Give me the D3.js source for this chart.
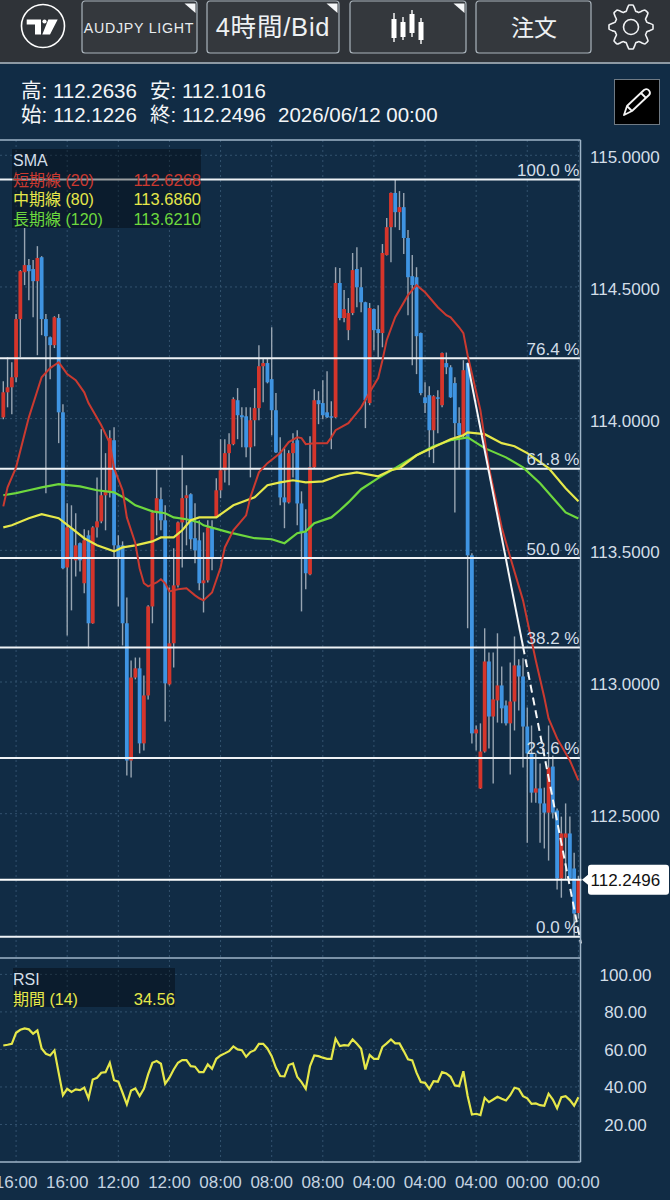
<!DOCTYPE html>
<html>
<head>
<meta charset="utf-8">
<script src="https://cdn.jsdelivr.net/npm/d3@7"></script>
<style>
  html, body { margin: 0; padding: 0; background: #112c45; }
  svg { display: block; }
  text { font-family: "Liberation Sans", "Noto Sans CJK JP", sans-serif; }
</style>
</head>
<body>
<div id="chart"></div>
<script>
// Candles, oldest to newest
const candleOpen = [114.005,114.100,114.119,114.157,114.378,114.556,114.583,114.568,114.522,114.613,114.378,114.309,114.279,114.382,114.024,113.435,113.584,113.462,113.527,113.375,113.557,113.223,113.587,113.610,113.709,113.720,113.918,113.519,113.519,113.223,112.702,113.017,113.052,112.767,112.949,113.287,113.644,113.694,113.614,112.991,113.147,113.367,113.606,113.698,113.713,113.546,113.538,113.375,113.386,113.587,113.625,113.728,113.804,113.869,113.903,114.070,114.013,114.009,113.891,113.994,114.040,114.199,114.211,114.150,114.032,113.872,113.701,113.682,113.869,113.918,113.678,113.568,113.409,113.815,114.070,114.059,114.024,114.009,114.005,114.515,114.382,114.336,114.401,114.568,114.499,114.442,114.059,114.416,114.340,114.325,114.621,114.727,114.857,114.784,114.803,114.686,114.541,114.537,114.325,114.081,114.089,113.956,114.081,114.051,114.211,114.195,114.135,113.983,113.937,114.211,113.481,112.805,112.596,112.736,113.078,112.869,112.930,112.987,112.911,112.843,112.926,113.063,113.021,112.831,112.729,112.580,112.596,112.539,112.504,112.679,112.512,112.254,112.409,112.425,112.292,112.1226];
const candleHigh = [114.142,114.233,114.214,114.397,114.564,114.724,114.606,114.602,114.655,114.617,114.397,114.312,114.389,114.397,114.055,113.679,113.671,113.641,113.530,113.580,113.576,113.591,113.777,113.960,113.869,113.956,113.967,113.557,113.534,113.321,113.082,113.093,113.093,113.025,113.291,113.652,113.812,113.739,113.671,113.359,113.508,113.609,113.861,113.747,113.717,113.679,113.614,113.568,113.614,113.614,113.774,113.922,113.922,113.945,114.081,114.116,114.043,114.043,114.043,114.116,114.279,114.230,114.230,114.347,114.097,113.929,113.888,113.880,113.945,113.956,113.724,113.656,113.933,114.112,114.104,114.146,114.180,114.066,114.575,114.572,114.488,114.458,114.629,114.651,114.575,114.444,114.439,114.418,114.431,114.663,114.762,114.859,114.908,114.864,114.857,114.716,114.621,114.575,114.327,114.138,114.123,114.089,114.108,114.251,114.251,114.203,114.157,114.043,114.222,114.213,113.489,112.835,112.843,113.204,113.112,113.112,113.185,113.059,112.930,113.074,113.173,113.086,113.090,112.903,112.835,112.729,112.691,112.599,112.835,112.721,112.520,112.489,112.539,112.489,112.352,112.2636];
const candleLow = [113.998,114.043,114.017,114.138,114.233,114.507,114.450,114.385,114.241,114.317,113.717,114.150,114.268,113.907,113.428,113.177,113.272,113.401,113.420,113.337,113.128,113.221,113.549,113.603,113.576,113.701,113.470,113.287,113.139,112.645,112.637,113.010,112.729,112.740,112.934,113.223,113.557,113.576,112.850,112.987,113.055,113.359,113.435,113.519,113.504,113.451,113.348,113.264,113.378,113.424,113.623,113.698,113.758,113.747,113.899,113.922,113.891,113.853,113.777,113.895,113.994,114.062,114.134,113.937,113.870,113.671,113.584,113.678,113.777,113.595,113.268,113.352,113.405,113.813,113.979,113.998,114.002,113.884,114.002,114.374,114.366,114.298,114.393,114.423,114.404,113.964,114.051,114.260,114.233,114.271,114.619,114.594,114.727,114.716,114.625,114.393,114.203,114.169,114.089,114.021,113.853,113.831,113.945,114.043,114.169,114.079,113.644,113.812,113.929,113.204,112.767,112.740,112.594,112.732,112.748,112.615,112.846,112.843,112.835,112.649,112.816,112.892,112.675,112.390,112.542,112.542,112.390,112.368,112.322,112.482,112.212,112.181,112.252,112.252,112.037,112.1016];
const candleClose = [114.100,114.119,114.157,114.378,114.560,114.583,114.560,114.522,114.610,114.378,114.313,114.279,114.385,114.024,113.432,113.587,113.470,113.519,113.462,113.538,113.223,113.587,113.610,113.709,113.728,113.926,113.519,113.470,113.223,112.702,113.017,113.052,112.767,112.949,113.287,113.644,113.698,113.614,112.995,113.147,113.367,113.606,113.698,113.709,113.542,113.500,113.375,113.386,113.587,113.470,113.728,113.804,113.869,113.903,114.074,114.013,114.005,113.891,113.994,114.040,114.199,114.211,114.138,114.032,113.872,113.701,113.682,113.869,113.907,113.678,113.568,113.413,113.815,114.070,114.055,114.013,114.005,114.005,114.515,114.382,114.416,114.401,114.564,114.499,114.442,114.070,114.420,114.336,114.325,114.629,114.727,114.857,114.784,114.803,114.686,114.537,114.507,114.313,114.097,114.059,113.956,114.085,114.077,114.249,114.195,114.081,113.983,113.937,114.184,113.481,112.805,112.820,112.736,113.078,112.869,112.934,112.987,112.900,112.843,112.926,113.063,113.021,112.831,112.729,112.580,112.596,112.539,112.504,112.675,112.504,112.254,112.425,112.425,112.254,112.121,112.2496];

// Moving averages, sampled at these candle numbers
const sma20Index = [0,1,3,6,9,11,13,14,15,17,19,20,23,25,26,28,29,31,32,33,34,36,37,38,39,41,43,45,46,47,49,51,52,54,57,58,60,62,65,67,69,70,71,73,76,77,78,81,84,86,88,89,90,92,95,97,99,102,104,105,107,108,109,112,114,117,119,122,123,125,127,128,130,133,135];
const sma20 = [113.667,113.739,113.815,114.005,114.157,114.192,114.214,114.192,114.169,114.146,114.100,114.059,113.975,113.907,113.812,113.728,113.625,113.527,113.432,113.375,113.363,113.378,113.390,113.375,113.344,113.352,113.356,113.329,113.318,113.310,113.340,113.435,113.511,113.576,113.633,113.701,113.796,113.831,113.869,113.911,113.929,113.926,113.903,113.907,113.907,113.929,113.956,113.983,114.043,114.100,114.154,114.222,114.298,114.385,114.469,114.507,114.480,114.423,114.393,114.385,114.347,114.325,114.241,114.032,113.815,113.587,113.474,113.310,113.234,113.082,112.941,112.862,112.786,112.702,112.6268];
const sma80Index = [0,2,6,9,13,16,19,22,26,28,31,35,37,40,42,44,46,50,54,59,62,65,68,71,75,79,83,88,91,93,97,101,105,108,109,113,117,120,123,128,132,135];
const sma80 = [113.587,113.595,113.622,113.637,113.622,113.584,113.546,113.519,113.496,113.511,113.519,113.534,113.549,113.549,113.576,113.614,113.625,113.625,113.671,113.701,113.747,113.758,113.766,113.758,113.762,113.785,113.796,113.781,113.804,113.812,113.861,113.891,113.922,113.937,113.948,113.941,113.907,113.895,113.869,113.812,113.736,113.686];
const sma120Index = [0,3,6,9,13,18,22,26,29,31,35,38,40,43,46,47,53,59,63,66,69,71,73,77,79,81,84,88,92,97,101,105,108,109,113,118,122,126,132,135];
const sma120 = [113.709,113.717,113.728,113.739,113.751,113.743,113.728,113.720,113.694,113.671,113.648,113.641,113.625,113.618,113.606,113.595,113.568,113.546,113.542,113.527,113.565,113.572,113.603,113.625,113.652,113.682,113.732,113.774,113.812,113.861,113.895,113.918,113.926,113.929,113.888,113.853,113.815,113.755,113.644,113.621];

// RSI (14), one value per candle
const rsi = [62.1,62.5,63.0,68.9,70.5,71.2,70.7,68.4,70.1,60.5,57.7,56.8,59.5,47.5,35.6,39.0,37.4,38.7,38.3,39.6,33.9,44.0,44.9,47.6,47.9,52.9,43.6,42.8,36.9,30.7,38.1,39.2,35.2,39.0,46.7,52.9,53.8,52.4,41.7,44.9,49.3,52.9,54.3,54.3,51.1,50.8,47.9,47.9,52.0,49.7,55.0,56.8,57.9,59.1,61.6,60.0,59.6,56.1,58.6,59.6,63.0,63.0,60.5,56.4,50.2,45.8,45.6,51.7,52.5,45.4,42.6,39.0,51.1,56.8,56.4,55.6,55.0,55.0,65.7,61.8,62.3,62.1,65.3,63.0,60.4,49.3,57.0,55.0,55.0,61.4,63.2,65.3,63.2,63.2,59.1,54.7,54.1,47.6,42.6,42.2,39.0,43.1,42.8,47.9,47.2,45.4,40.8,40.4,48.4,35.2,25.3,25.7,25.0,34.2,31.9,33.3,34.8,33.7,32.8,35.6,39.6,39.0,35.1,33.9,31.0,31.2,30.3,30.0,36.4,33.3,28.7,34.6,35.1,33.0,30.0,34.56];

// Fibonacci retracement
const fibHigh = 114.908;
const fibLow = 112.033;
const fibLabels = ["100.0 %","76.4 %","61.8 %","50.0 %","38.2 %","23.6 %","0.0 %"];
const fibRatios = [1, 0.764, 0.618, 0.5, 0.382, 0.236, 0];

// Drawn trend line, solid then dashed
const trendIndex = [109, 122, 135.6];
const trendPrice = [114.211, 113.135, 112.007];

// Axis ticks
const priceTicks = [115, 114.5, 114, 113.5, 113, 112.5];
const rsiTicks = [100, 80, 60, 40, 20];
const timeTickIndex = [3,15,27,39,51,63,75,87,99,111,123,135];
const timeTickLabels = ["16:00","16:00","12:00","12:00","08:00","08:00","08:00","04:00","04:00","04:00","00:00","00:00"];

const lastPrice = 112.2496;

const colors = {
    bg: "#112c45",
    header: "#2f3338",
    border: "#9fb5c8",
    grid: "#33526e",
    text: "#d3dee8",
    up: "#d5352b",
    down: "#3f94e2",
    wick: "#98a5b2",
    sma20: "#cb3a30",
    sma80: "#e6e84a",
    sma120: "#6ed83e",
    fib: "#eef2f6"
};

const width = 670;
const height = 1200;
const plotLeft = 0;
const plotRight = 580.5;
const mainTop = 140;
const mainBottom = 957.5;
const rsiBottom = 1162;

const svg = d3.select("#chart")
    .append("svg")
    .attr("width", width)
    .attr("height", height);

svg.append("rect").attr("width", width).attr("height", height).attr("fill", colors.bg);

// Scales
const xScale = d3.scaleLinear().domain([0, 135]).range([3.3, 578.4]);
const yScale = d3.scaleLinear().domain([111.954, 115.058]).range([mainBottom, mainTop]);
const rsiScale = d3.scaleLinear().domain([0, 109]).range([rsiBottom, mainBottom]);

// ---- header bar ----
const header = svg.append("g");
header.append("rect").attr("width", width).attr("height", 63).attr("fill", colors.header);
header.append("rect").attr("y", 62).attr("width", width).attr("height", 2).attr("fill", "#8d99a3");

// logo
header.append("circle").attr("cx", 43).attr("cy", 26).attr("r", 21.5)
    .attr("fill", "none").attr("stroke", "#fff").attr("stroke-width", 1.6);
header.append("path").attr("fill", "#fff")
    .attr("d", "M26.7 19.5H41V34.5H35V24.5H26.7z M48.3 19.5H57.7L50 34.5H42.3z");
header.append("circle").attr("cx", 44.5).attr("cy", 21.5).attr("r", 2.1).attr("fill", "#fff");

const buttons = [
    { x: 82, w: 115, tri: true },
    { x: 207, w: 132, tri: true },
    { x: 350, w: 116, tri: true },
    { x: 476, w: 115, tri: false }
];
buttons.forEach(b => {
    header.append("rect").attr("x", b.x).attr("y", 1).attr("width", b.w).attr("height", 52).attr("rx", 3)
        .attr("fill", "#34383d").attr("stroke", "#aab4bc").attr("stroke-width", 1.2);
    if (b.tri) {
        const r = b.x + b.w - 1.5;
        header.append("path").attr("fill", "#f4f6f8").attr("d", `M${r - 11} 3.5H${r}V13z`);
    }
});
header.append("text").attr("x", 139).attr("y", 32.5).attr("text-anchor", "middle")
    .attr("font-size", 14.2).attr("letter-spacing", 0.75).attr("fill", "#e8ecef").text("AUDJPY LIGHT");
header.append("text").attr("x", 273).attr("y", 36).attr("text-anchor", "middle")
    .attr("font-size", 25.5).attr("letter-spacing", 0.8).attr("fill", "#eef1f3").text("4時間/Bid");
header.append("text").attr("x", 534).attr("y", 35.5).attr("text-anchor", "middle")
    .attr("font-size", 23).attr("fill", "#eef1f3").text("注文");

// candle icon
[[394, 13, 42, 19, 38], [403, 17, 40, 22, 37], [412, 10, 37, 14, 33], [421, 18, 44, 22, 40]].forEach(c => {
    header.append("line").attr("x1", c[0]).attr("x2", c[0]).attr("y1", c[1]).attr("y2", c[2])
        .attr("stroke", "#fff").attr("stroke-width", 1.4);
    header.append("rect").attr("x", c[0] - 2.5).attr("y", c[3]).attr("width", 5).attr("height", c[4] - c[3]).attr("fill", "#fff");
});

// gear
const gearRadii = d3.range(64).map(i => {
    const p = i % 8;
    return p < 3 ? 22 : p === 3 || p === 7 ? 19 : 16.5;
});
const gearPath = d3.lineRadial()
    .angle((d, i) => i / 64 * 2 * Math.PI - 0.1)
    .radius(d => d)
    .curve(d3.curveCardinalClosed.tension(0.5));
header.append("path").attr("transform", "translate(631,27)").attr("d", gearPath(gearRadii))
    .attr("fill", "none").attr("stroke", "#f0f2f4").attr("stroke-width", 1.6).attr("stroke-linejoin", "round");
header.append("circle").attr("cx", 631).attr("cy", 27).attr("r", 7.5)
    .attr("fill", "none").attr("stroke", "#f0f2f4").attr("stroke-width", 1.6);

// ---- OHLC read-out ----
const fmt = d3.format(".4f");
const last = candleOpen.length - 1;
const info = svg.append("g").attr("font-size", 20.5).attr("fill", "#f3f5f7");
info.append("text").attr("x", 21).attr("y", 97.5).text(`高: ${fmt(candleHigh[last])}`);
info.append("text").attr("x", 150).attr("y", 97.5).text(`安: ${fmt(candleLow[last])}`);
info.append("text").attr("x", 21).attr("y", 122).text(`始: ${fmt(candleOpen[last])}`);
info.append("text").attr("x", 150).attr("y", 122).text(`終: ${fmt(candleClose[last])}`);
info.append("text").attr("x", 278).attr("y", 122).text("2026/06/12 00:00");

// pencil button
svg.append("rect").attr("x", 614.5).attr("y", 79.5).attr("width", 45).attr("height", 45)
    .attr("fill", "#000").attr("stroke", "#6f7a84");
svg.append("path").attr("fill", "none").attr("stroke", "#f4f4f4").attr("stroke-width", 1.8).attr("stroke-linejoin", "round")
    .attr("d", "M624 115 L627 106 L644 90 Q647 88 649 90.5 Q651 93 649 95 L632 111 Z M627 106 L632 111 M641 93 L646 98");

// ---- grid ----
const grid = svg.append("g").attr("stroke", colors.grid).attr("stroke-width", 1).attr("stroke-dasharray", "2,3");
priceTicks.forEach(t => {
    grid.append("line").attr("x1", plotLeft).attr("x2", plotRight).attr("y1", yScale(t)).attr("y2", yScale(t));
});
rsiTicks.forEach(t => {
    grid.append("line").attr("x1", plotLeft).attr("x2", plotRight).attr("y1", rsiScale(t)).attr("y2", rsiScale(t));
});
timeTickIndex.forEach(i => {
    grid.append("line").attr("x1", xScale(i)).attr("x2", xScale(i)).attr("y1", mainTop).attr("y2", rsiBottom);
});

// ---- candles ----
const indexes = d3.range(candleOpen.length);
svg.append("g").selectAll("line")
    .data(indexes)
    .enter()
    .append("line")
    .attr("x1", i => xScale(i))
    .attr("x2", i => xScale(i))
    .attr("y1", i => yScale(candleHigh[i]))
    .attr("y2", i => yScale(candleLow[i]))
    .attr("stroke", colors.wick)
    .attr("stroke-width", 1.4);
svg.append("g").selectAll("rect")
    .data(indexes)
    .enter()
    .append("rect")
    .attr("x", i => xScale(i) - 1.9)
    .attr("width", 3.8)
    .attr("y", i => yScale(Math.max(candleOpen[i], candleClose[i])))
    .attr("height", i => Math.max(1.5, Math.abs(yScale(candleOpen[i]) - yScale(candleClose[i]))))
    .attr("fill", i => candleClose[i] >= candleOpen[i] ? colors.up : colors.down);

// ---- fibonacci lines ----
const fibPrice = r => fibLow + (fibHigh - fibLow) * r;
const fib = svg.append("g");
fibRatios.forEach(r => {
    const y = yScale(fibPrice(r));
    fib.append("line").attr("x1", plotLeft).attr("x2", plotRight).attr("y1", y).attr("y2", y)
        .attr("stroke", colors.fib).attr("stroke-width", 2);
});

// ---- moving averages ----
const lineFor = (idx) => d3.line().x((d, i) => xScale(idx[i])).y(d => yScale(d));
svg.append("path").attr("d", lineFor(sma120Index)(sma120)).attr("fill", "none").attr("stroke", colors.sma120).attr("stroke-width", 2.2);
svg.append("path").attr("d", lineFor(sma80Index)(sma80)).attr("fill", "none").attr("stroke", colors.sma80).attr("stroke-width", 2.2);
svg.append("path").attr("d", lineFor(sma20Index)(sma20)).attr("fill", "none").attr("stroke", colors.sma20).attr("stroke-width", 2);

// ---- trend line ----
const trendLine = lineFor(trendIndex);
svg.append("path").attr("d", trendLine(trendPrice.slice(0, 2)))
    .attr("fill", "none").attr("stroke", "#f6f7f8").attr("stroke-width", 2);
svg.append("path").attr("d", d3.line().x((d, i) => xScale(trendIndex[i + 1])).y(d => yScale(d))(trendPrice.slice(1)))
    .attr("fill", "none").attr("stroke", "#f6f7f8").attr("stroke-width", 2).attr("stroke-dasharray", "8,5");

// fibonacci labels
fibRatios.forEach((r, k) => {
    svg.append("text").attr("x", 579.5).attr("y", yScale(fibPrice(r)) - 3.5)
        .attr("text-anchor", "end").attr("font-size", 17).attr("fill", colors.text).text(fibLabels[k]);
});

// ---- RSI line ----
svg.append("path")
    .attr("d", d3.line().x((d, i) => xScale(i)).y(d => rsiScale(d))(rsi))
    .attr("fill", "none").attr("stroke", colors.sma80).attr("stroke-width", 2.2);

// ---- panel borders ----
const borders = svg.append("g").attr("stroke", colors.border).attr("stroke-width", 1.5);
borders.append("line").attr("x1", 0).attr("x2", plotRight).attr("y1", mainTop).attr("y2", mainTop);
borders.append("line").attr("x1", 0).attr("x2", plotRight).attr("y1", mainBottom + 0.5).attr("y2", mainBottom + 0.5);
borders.append("line").attr("x1", 0).attr("x2", plotRight).attr("y1", rsiBottom).attr("y2", rsiBottom);
borders.append("line").attr("x1", plotRight).attr("x2", plotRight).attr("y1", mainTop).attr("y2", rsiBottom);

// ---- last price line and tag ----
svg.append("line").attr("x1", 0).attr("x2", plotRight + 1).attr("y1", yScale(lastPrice)).attr("y2", yScale(lastPrice))
    .attr("stroke", "#fff").attr("stroke-width", 2);
const tagY = yScale(lastPrice);
svg.append("path").attr("fill", "#fff")
    .attr("d", `M582 ${tagY} l6 -5 v-7 q0 -3 3 -3 h75 q3 0 3 3 v24 q0 3 -3 3 h-75 q-3 0 -3 -3 v-7 z`);
svg.append("text").attr("x", 590.5).attr("y", tagY + 6).attr("font-size", 17).attr("fill", "#111").text(fmt(lastPrice));

// ---- price axis ----
priceTicks.forEach(t => {
    svg.append("text").attr("x", 590).attr("y", yScale(t) + 8).attr("font-size", 17).attr("fill", colors.text).text(fmt(t));
});
// RSI axis
rsiTicks.forEach(t => {
    svg.append("text").attr("x", 625.5).attr("y", rsiScale(t) + 6.5).attr("text-anchor", "middle")
        .attr("font-size", 17).attr("fill", colors.text).text(d3.format(".2f")(t));
});
// time axis
timeTickIndex.forEach((i, k) => {
    svg.append("text").attr("x", xScale(i)).attr("y", 1188).attr("text-anchor", "middle")
        .attr("font-size", 17).attr("fill", "#c4d3e0").text(timeTickLabels[k]);
});

// ---- legends ----
const smaLegend = svg.append("g");
smaLegend.append("rect").attr("x", 12).attr("y", 149).attr("width", 189).attr("height", 79).attr("fill", "#000").attr("opacity", 0.35);
smaLegend.append("text").attr("x", 13).attr("y", 165.5).attr("font-size", 16).attr("fill", colors.text).text("SMA");
const smaRows = [
    ["短期線 (20)", sma20[sma20.length - 1], colors.sma20, 185.5],
    ["中期線 (80)", sma80[sma80.length - 1], colors.sma80, 205],
    ["長期線 (120)", sma120[sma120.length - 1], colors.sma120, 225]
];
smaRows.forEach(r => {
    smaLegend.append("text").attr("x", 13).attr("y", r[3]).attr("font-size", 16).attr("fill", r[2]).text(r[0]);
    smaLegend.append("text").attr("x", 201).attr("y", r[3]).attr("text-anchor", "end").attr("font-size", 16.5).attr("fill", r[2]).text(fmt(r[1]));
});

const rsiLegend = svg.append("g");
rsiLegend.append("rect").attr("x", 13).attr("y", 968).attr("width", 162).attr("height", 39).attr("fill", "#000").attr("opacity", 0.35);
rsiLegend.append("text").attr("x", 13).attr("y", 985).attr("font-size", 16).attr("fill", colors.text).text("RSI");
rsiLegend.append("text").attr("x", 13).attr("y", 1005).attr("font-size", 16).attr("fill", colors.sma80).text("期間 (14)");
rsiLegend.append("text").attr("x", 175).attr("y", 1005).attr("text-anchor", "end").attr("font-size", 16.5).attr("fill", colors.sma80).text(d3.format(".2f")(rsi[last]));
</script>
</body>
</html>
